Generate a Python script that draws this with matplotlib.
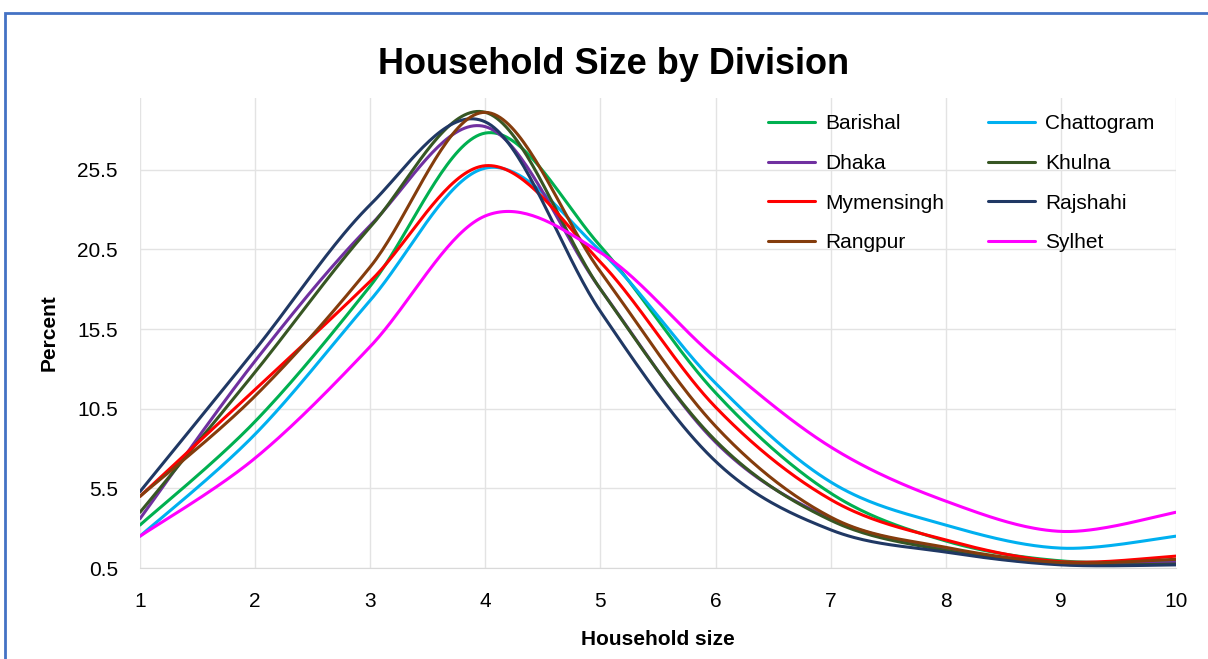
import numpy as np
import matplotlib.pyplot as plt
from matplotlib.patches import Rectangle

# -------------------------------
# DATA
# -------------------------------
household_size = [1, 2, 3, 4, 5, 6, 7, 8, 9, 10]

barishal   = [3.2, 9.7, 18.2, 27.8, 20.7, 11.5, 5.2, 2.2, 0.95, 0.95]
chattogram = [2.5, 8.9, 17.3, 25.6, 20.4, 12.1, 5.9, 3.2, 1.75, 2.5]
dhaka      = [3.6, 13.5, 22.0, 28.2, 18.0, 8.4, 3.6, 1.7, 0.8, 0.85]
khulna     = [4.0, 12.8, 21.9, 29.1, 18.0, 8.5, 3.5, 1.6, 0.75, 0.75]
mymensingh = [5.0, 11.7, 18.5, 25.75, 19.7, 10.6, 4.8, 2.26, 0.9, 1.25]
rajshahi   = [5.3, 14.2, 23.3, 28.5, 16.6, 7.2, 2.9, 1.5, 0.7, 0.7]
rangpur    = [5.0, 11.3, 19.4, 29.1, 19.1, 9.4, 3.7, 1.8, 0.85, 1.05]
sylhet     = [2.5, 7.4, 14.4, 22.6, 20.3, 13.7, 8.1, 4.7, 2.8, 4.0]

divisions = ["Barishal", "Chattogram", "Dhaka", "Khulna",
             "Mymensingh", "Rajshahi", "Rangpur", "Sylhet"]
series = [barishal, chattogram, dhaka, khulna,
          mymensingh, rajshahi, rangpur, sylhet]
colors = ["#00B050", "#00B0F0", "#7030A0", "#375623",
          "#FF0000", "#203864", "#843C0C", "#FF00FF"]

ytick_vals = [0.5, 5.5, 10.5, 15.5, 20.5, 25.5]


# Excel-style smoothed line (cubic Bezier through the points)
def smooth(xs, ys, n=40):
    xs = np.asarray(xs, float)
    ys = np.asarray(ys, float)
    px = np.concatenate([[xs[0]], xs, [xs[-1]]])
    py = np.concatenate([[ys[0]], ys, [ys[-1]]])
    out_x, out_y = [], []
    t = np.linspace(0, 1, n)
    for i in range(1, len(px) - 2):
        p0 = np.array([px[i], py[i]])
        p3 = np.array([px[i + 1], py[i + 1]])
        c1 = p0 + (np.array([px[i + 1], py[i + 1]]) - np.array([px[i - 1], py[i - 1]])) / 6
        c2 = p3 - (np.array([px[i + 2], py[i + 2]]) - np.array([px[i], py[i]])) / 6
        b = ((1 - t) ** 3)[:, None] * p0 + (3 * (1 - t) ** 2 * t)[:, None] * c1 \
            + (3 * (1 - t) * t ** 2)[:, None] * c2 + (t ** 3)[:, None] * p3
        out_x.extend(b[:, 0])
        out_y.extend(b[:, 1])
    return out_x, out_y


plt.rcParams['font.family'] = ['Liberation Sans', 'DejaVu Sans']

fig = plt.figure(figsize=(12.08, 6.59), dpi=100)
ax = fig.add_axes([0.1159, 0.138, 0.8576, 0.7133])

lines = {}
for name, vals, col in zip(divisions, series, colors):
    sx, sy = smooth(household_size, vals)
    lines[name], = ax.plot(sx, sy, color=col, lw=2.2, label=name, solid_capstyle='round')

ax.set_xlim(1, 10)
ax.set_ylim(0.5, 30)
ax.set_xticks(household_size)
ax.set_yticks(ytick_vals)
ax.set_yticklabels([str(v) for v in ytick_vals])
ax.tick_params(axis='both', length=0, labelsize=15)
ax.tick_params(axis='x', pad=17)
ax.tick_params(axis='y', pad=16)
ax.grid(True, color="#E3E3E3", lw=1)
ax.set_axisbelow(True)
for s in ["top", "right", "left"]:
    ax.spines[s].set_visible(False)
ax.spines["bottom"].set_color("#D9D9D9")

ax.set_xlabel("Household size", fontsize=15, fontweight="bold", labelpad=14)
ax.set_ylabel("Percent", fontsize=15, fontweight="bold", labelpad=13)

fig.text(0.508, 0.902, "Household Size by Division", ha="center", va="center",
         fontsize=26, fontweight="bold")

# legend filled row by row like the original: two columns
order = ["Barishal", "Dhaka", "Mymensingh", "Rangpur",
         "Chattogram", "Khulna", "Rajshahi", "Sylhet"]
ax.legend([lines[n] for n in order], order, ncol=2, loc="upper left",
          bbox_to_anchor=(768 / 1208, 1 - 114 / 659), bbox_transform=fig.transFigure,
          frameon=False, borderpad=0, borderaxespad=0,
          fontsize=15, handlelength=2.25, handletextpad=0.5,
          columnspacing=2.1, labelspacing=1.0)

# blue frame around the chart
fig.patches.append(Rectangle((0.004, -0.05), 1.1, 1.03, transform=fig.transFigure,
                             fill=False, edgecolor="#4472C4", lw=2))

fig.savefig("out.png", dpi=100)
